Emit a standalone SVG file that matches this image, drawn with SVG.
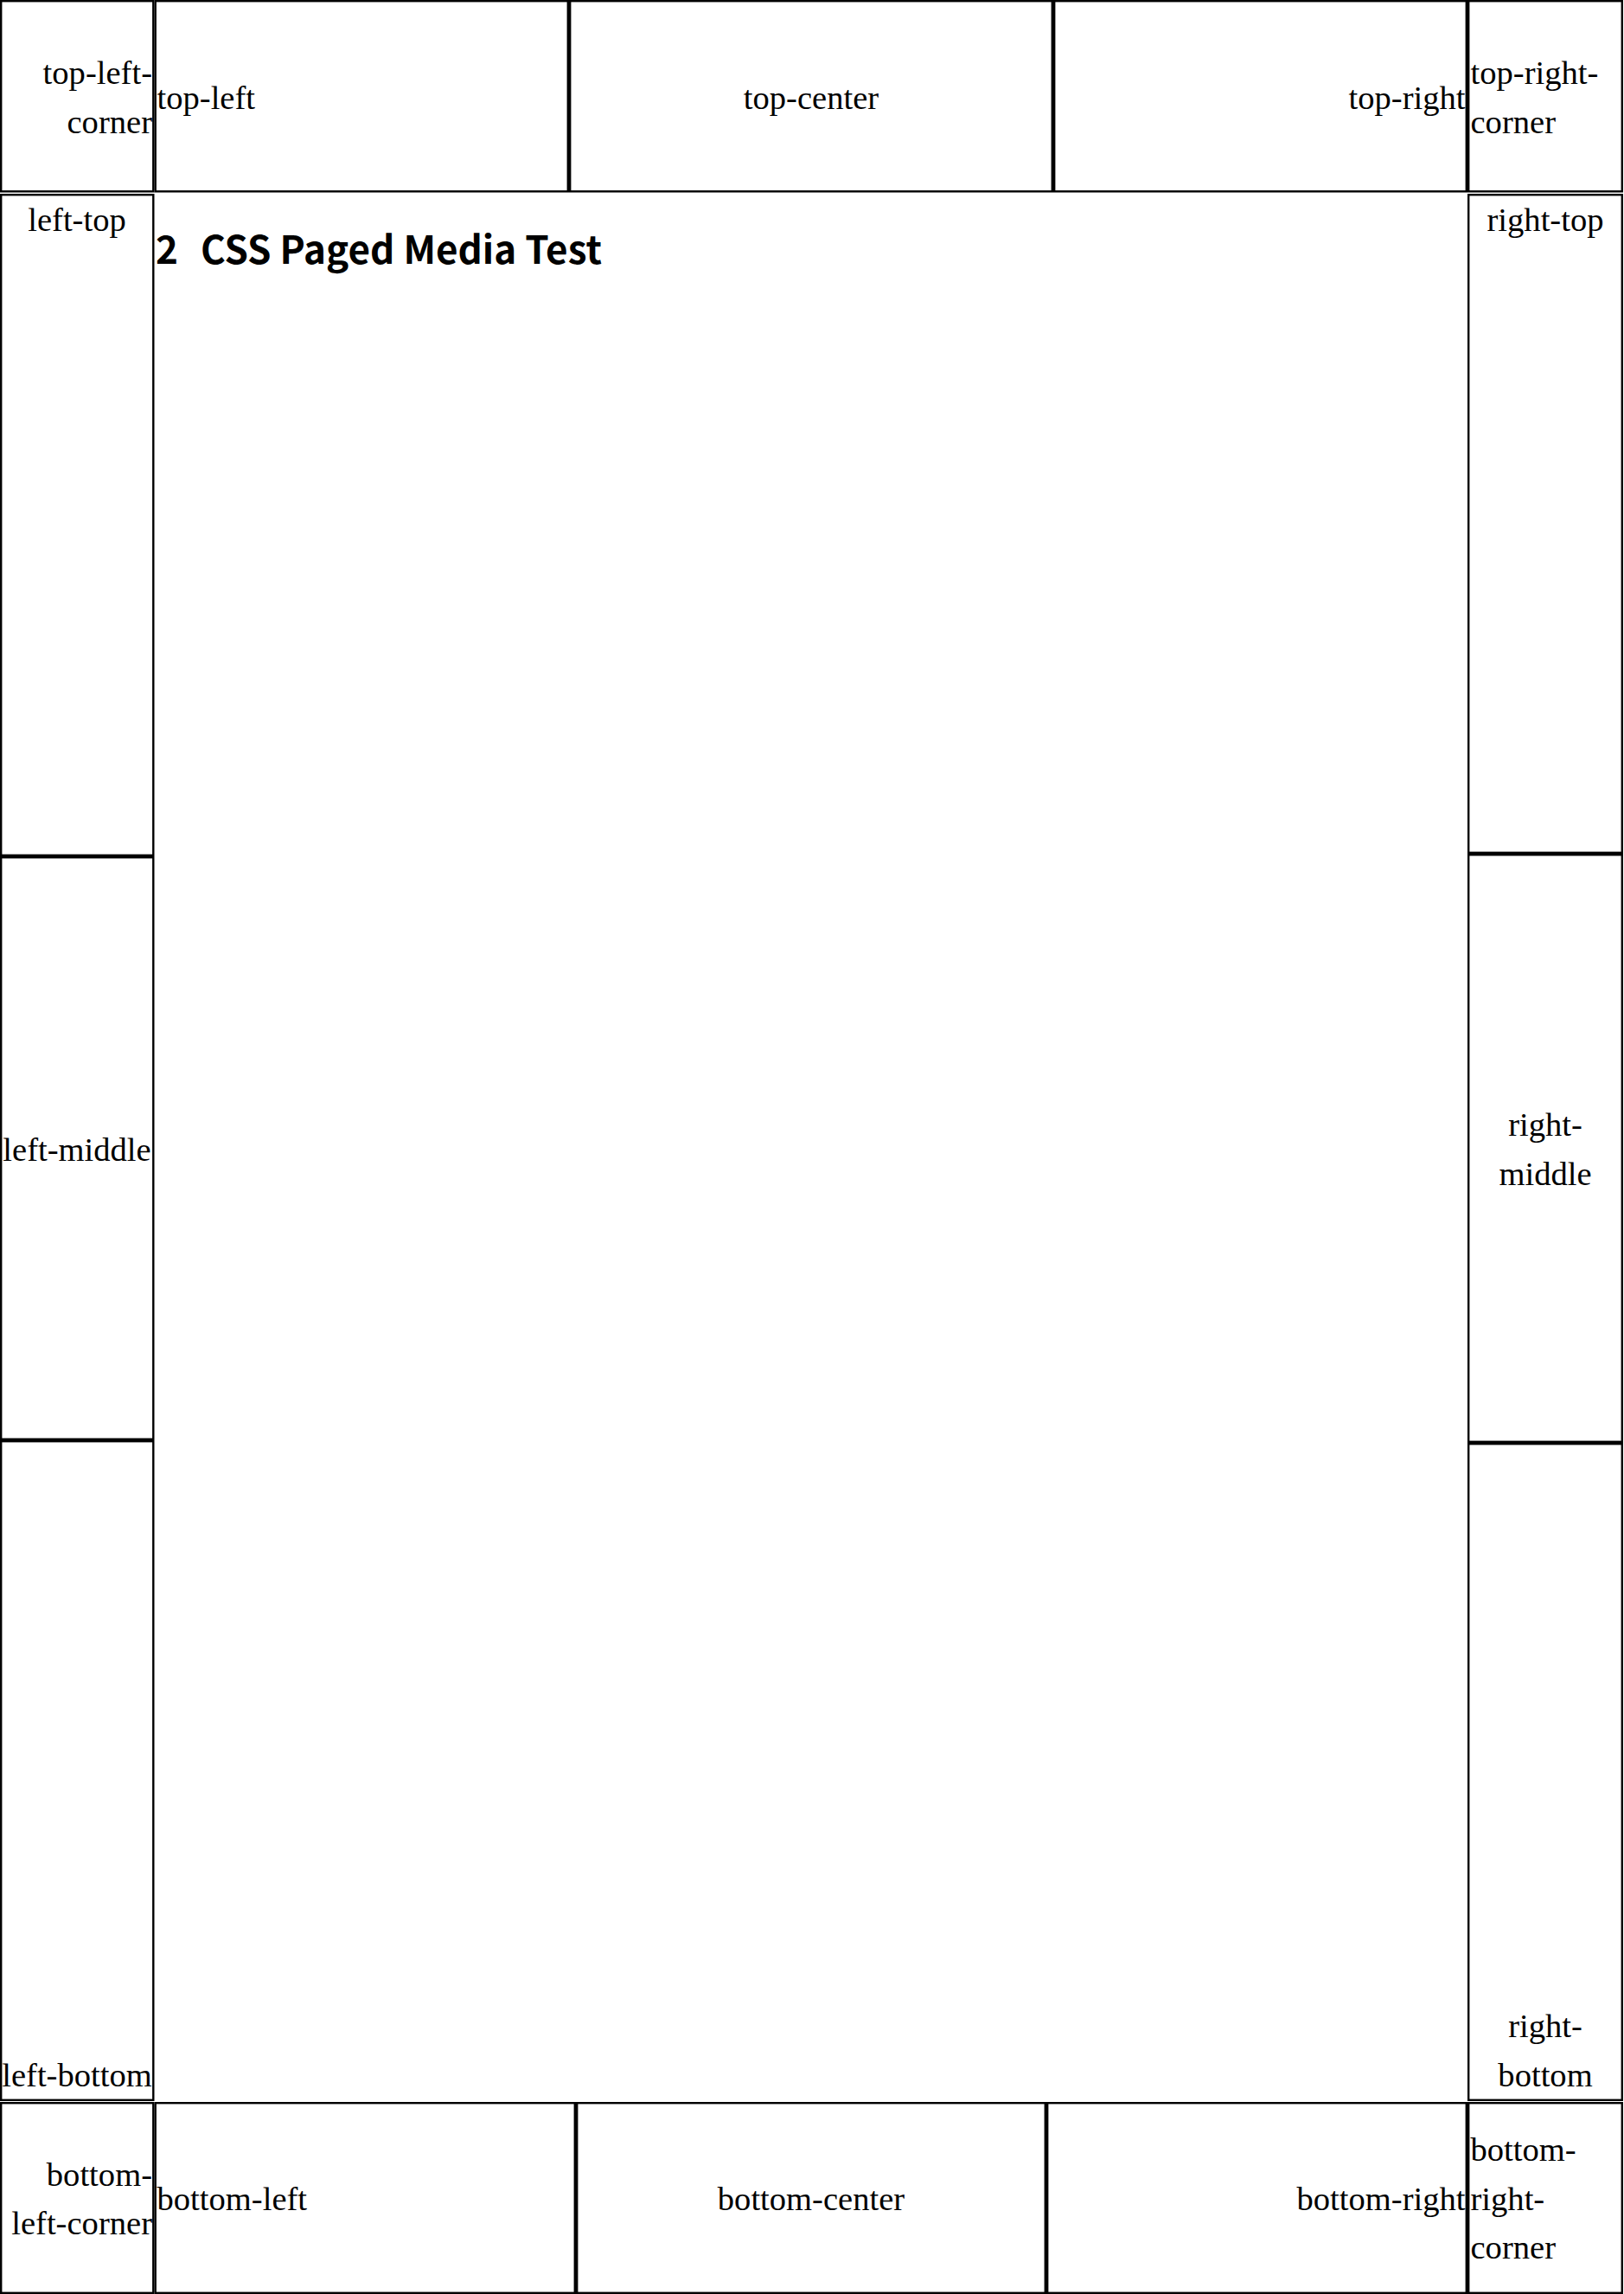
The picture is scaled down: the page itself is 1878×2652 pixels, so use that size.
<svg xmlns="http://www.w3.org/2000/svg" width="1878" height="2652" viewBox="0 0 1878 2652">
<style>
.box{fill:#fff;stroke:#000;stroke-width:2.4}
.t{font-family:"Liberation Serif","Times New Roman",serif;font-size:38.6px;fill:#000}
.m{text-anchor:middle}
.e{text-anchor:end}
.h{font-family:"Noto Sans CJK SC","Noto Sans",sans-serif;font-weight:700;font-size:44px;fill:#000}
</style>
<rect x="0" y="0" width="1878" height="2652" fill="#fff"/>
<g id="top-left-corner"><rect class="box" x="1.2" y="1.2" width="176.1" height="220.1"/><text class="t e" x="176"><tspan x="176" y="96.7">top-left-</tspan><tspan x="176" y="153.5">corner</tspan></text></g>
<g id="top-left"><rect class="box" x="179.7" y="1.2" width="477.1" height="220.1"/><text class="t" x="181.5" y="126">top-left</text></g>
<g id="top-center"><rect class="box" x="659.2" y="1.2" width="557.6" height="220.1"/><text class="t m" x="938" y="126">top-center</text></g>
<g id="top-right"><rect class="box" x="1219.2" y="1.2" width="476.6" height="220.1"/><text class="t e" x="1694.5" y="126">top-right</text></g>
<g id="top-right-corner"><rect class="box" x="1698.2" y="1.2" width="177.6" height="220.1"/><text class="t"><tspan x="1700.5" y="96.7">top-right-</tspan><tspan x="1700.5" y="153.5">corner</tspan></text></g>
<g id="left-top"><rect class="box" x="1.2" y="225.2" width="176.1" height="763.6"/><text class="t m" x="89" y="267">left-top</text></g>
<g id="left-middle"><rect class="box" x="1.2" y="991.2" width="176.1" height="672.6"/><text class="t m" x="89" y="1342">left-middle</text></g>
<g id="left-bottom"><rect class="box" x="1.2" y="1666.2" width="176.1" height="761.6"/><text class="t m" x="89" y="2412">left-bottom</text></g>
<g id="right-top"><rect class="box" x="1698.2" y="225.2" width="177.6" height="760.6"/><text class="t m" x="1787" y="267">right-top</text></g>
<g id="right-middle"><rect class="box" x="1698.2" y="988.2" width="177.6" height="678.6"/><text class="t m"><tspan x="1787" y="1313">right-</tspan><tspan x="1787" y="1370">middle</tspan></text></g>
<g id="right-bottom"><rect class="box" x="1698.2" y="1669.2" width="177.6" height="758.6"/><text class="t m"><tspan x="1787" y="2355">right-</tspan><tspan x="1787" y="2412">bottom</tspan></text></g>
<g id="bottom-left-corner"><rect class="box" x="1.2" y="2431.2" width="176.1" height="219.6"/><text class="t e"><tspan x="176" y="2526.5">bottom-</tspan><tspan x="176" y="2583">left-corner</tspan></text></g>
<g id="bottom-left"><rect class="box" x="179.7" y="2431.2" width="485.1" height="219.6"/><text class="t" x="181.5" y="2555">bottom-left</text></g>
<g id="bottom-center"><rect class="box" x="667.2" y="2431.2" width="541.6" height="219.6"/><text class="t m" x="938" y="2555">bottom-center</text></g>
<g id="bottom-right"><rect class="box" x="1211.2" y="2431.2" width="484.6" height="219.6"/><text class="t e" x="1694.5" y="2555">bottom-right</text></g>
<g id="bottom-right-corner"><rect class="box" x="1698.2" y="2431.2" width="177.6" height="219.6"/><text class="t"><tspan x="1700.5" y="2498">bottom-</tspan><tspan x="1700.5" y="2555">right-</tspan><tspan x="1700.5" y="2611">corner</tspan></text></g>
<g id="title"><text class="h" x="180" y="305">2</text><text class="h" x="232" y="305">CSS Paged Media Test</text></g>
<g id="connectors"></g>
</svg>
